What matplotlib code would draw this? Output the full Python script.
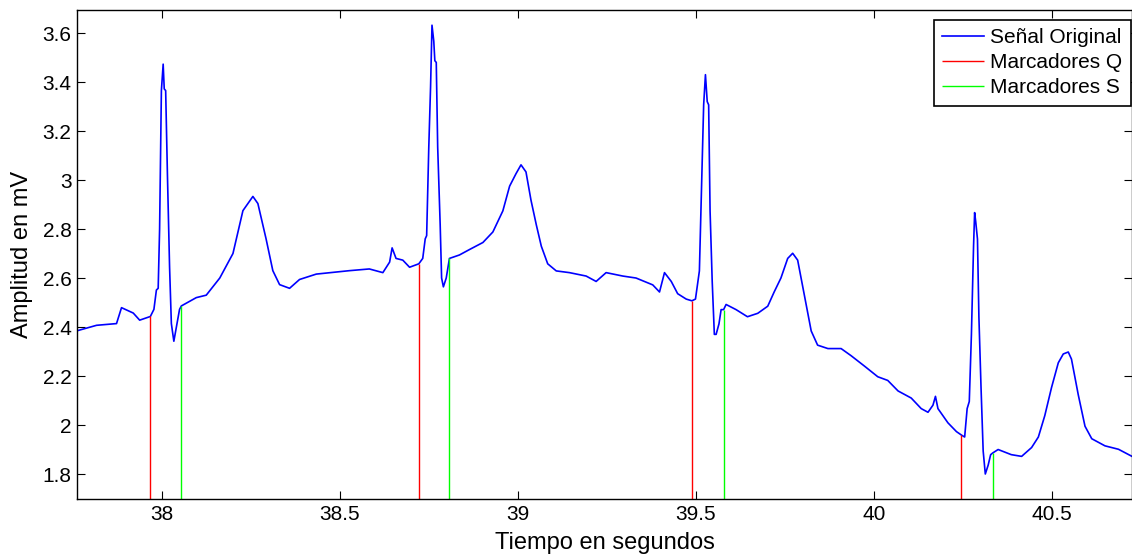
import matplotlib
matplotlib.use("Agg")
import matplotlib.pyplot as plt

# ---- data ----
senal_t = [37.763, 37.817, 37.873, 37.887, 37.920, 37.938, 37.968, 37.978, 37.985, 37.990,
           37.994, 37.999, 38.004, 38.007, 38.011, 38.016, 38.022, 38.027, 38.034, 38.041,
           38.050, 38.055, 38.097, 38.125, 38.163, 38.200, 38.228, 38.256, 38.270, 38.293,
           38.312, 38.331, 38.359, 38.387, 38.434, 38.480, 38.527, 38.583, 38.621, 38.640,
           38.647, 38.658, 38.677, 38.696, 38.722, 38.733, 38.740, 38.744, 38.750, 38.755,
           38.759, 38.764, 38.767, 38.771, 38.775, 38.782, 38.786, 38.791, 38.799, 38.808,
           38.836, 38.864, 38.902, 38.930, 38.958, 38.977, 38.995, 39.009, 39.023, 39.037,
           39.052, 39.066, 39.084, 39.108, 39.145, 39.192, 39.220, 39.248, 39.295, 39.332,
           39.379, 39.398, 39.412, 39.431, 39.449, 39.473, 39.489, 39.499, 39.506, 39.510,
           39.518, 39.522, 39.527, 39.532, 39.536, 39.540, 39.546, 39.552, 39.557, 39.565,
           39.571, 39.578, 39.585, 39.613, 39.645, 39.674, 39.702, 39.720, 39.739, 39.758,
           39.772, 39.786, 39.805, 39.824, 39.842, 39.871, 39.908, 39.936, 39.974, 40.011,
           40.039, 40.068, 40.105, 40.133, 40.152, 40.166, 40.173, 40.180, 40.208, 40.232,
           40.246, 40.255, 40.262, 40.268, 40.274, 40.280, 40.283, 40.286, 40.291, 40.295,
           40.301, 40.307, 40.313, 40.321, 40.328, 40.334, 40.349, 40.386, 40.415, 40.443,
           40.462, 40.480, 40.499, 40.518, 40.532, 40.546, 40.555, 40.574, 40.593, 40.612,
           40.649, 40.687, 40.725]
senal_v = [2.385, 2.407, 2.414, 2.479, 2.457, 2.428, 2.443, 2.472, 2.551, 2.558,
           2.800, 3.365, 3.473, 3.372, 3.365, 3.020, 2.645, 2.414, 2.342, 2.400,
           2.472, 2.486, 2.520, 2.530, 2.600, 2.700, 2.875, 2.933, 2.904, 2.760,
           2.630, 2.573, 2.558, 2.594, 2.616, 2.623, 2.630, 2.637, 2.622, 2.665,
           2.723, 2.680, 2.673, 2.644, 2.658, 2.680, 2.760, 2.773, 3.134, 3.380,
           3.632, 3.567, 3.487, 3.480, 3.134, 2.817, 2.600, 2.564, 2.600, 2.680,
           2.694, 2.716, 2.745, 2.788, 2.874, 2.975, 3.026, 3.062, 3.033, 2.918,
           2.817, 2.730, 2.658, 2.629, 2.622, 2.608, 2.586, 2.622, 2.608, 2.600,
           2.572, 2.543, 2.622, 2.586, 2.536, 2.514, 2.507, 2.514, 2.586, 2.629,
           3.090, 3.307, 3.430, 3.320, 3.307, 2.874, 2.586, 2.370, 2.370, 2.413,
           2.471, 2.471, 2.492, 2.471, 2.442, 2.456, 2.485, 2.543, 2.600, 2.680,
           2.701, 2.673, 2.528, 2.384, 2.326, 2.312, 2.312, 2.283, 2.240, 2.197,
           2.182, 2.139, 2.110, 2.067, 2.052, 2.081, 2.117, 2.067, 2.009, 1.973,
           1.959, 1.951, 2.067, 2.096, 2.370, 2.730, 2.867, 2.831, 2.759, 2.442,
           2.153, 1.894, 1.800, 1.836, 1.879, 1.886, 1.900, 1.879, 1.872, 1.908,
           1.951, 2.038, 2.153, 2.254, 2.290, 2.298, 2.269, 2.124, 1.995, 1.944,
           1.915, 1.901, 1.872]

q_t = [37.968, 38.722, 39.489, 40.246]
q_v = [2.443, 2.658, 2.507, 1.959]
s_t = [38.055, 38.808, 39.578, 40.334]
s_v = [2.486, 2.680, 2.471, 1.886]

x_ticks = [38, 38.5, 39, 39.5, 40, 40.5]
x_tick_labels = ["38", "38.5", "39", "39.5", "40", "40.5"]
y_ticks = [1.8, 2.0, 2.2, 2.4, 2.6, 2.8, 3.0, 3.2, 3.4, 3.6]
y_tick_labels = ["1.8", "2", "2.2", "2.4", "2.6", "2.8", "3", "3.2", "3.4", "3.6"]

labels = ["Señal Original", "Marcadores Q", "Marcadores S"]

# ---- figure ----
plt.rcParams['font.family'] = ['Liberation Sans', 'DejaVu Sans']

W, H = 1132, 554
fig = plt.figure(figsize=(W / 100, H / 100), dpi=100)
ax = fig.add_axes([77 / W, 1 - 499 / H, 1 - 77 / W, (499 - 10) / H])

ylim = (1.698, 3.694)
ax.set_xlim(37.762, 40.725)
ax.set_ylim(*ylim)

ax.plot(senal_t, senal_v, color='#0000ff', lw=1.2, label=labels[0])
ax.vlines(q_t, ylim[0], q_v, color='#ff0000', lw=1.0, label=labels[1])
ax.vlines(s_t, ylim[0], s_v, color='#00ff00', lw=1.0, label=labels[2])

ax.set_xticks(x_ticks)
ax.set_xticklabels(x_tick_labels)
ax.set_yticks(y_ticks)
ax.set_yticklabels(y_tick_labels)
ax.tick_params(direction='in', length=5.5, width=0.8, top=True, right=True,
               labelsize=15, pad=4, colors='black')

for sp in ax.spines.values():
    sp.set_linewidth(1.0)
    sp.set_color('black')

ax.set_xlabel("Tiempo en segundos", fontsize=17, labelpad=6)
ax.set_ylabel("Amplitud en mV", fontsize=17, labelpad=7)

leg = ax.legend(loc='upper right', bbox_to_anchor=(1130.7 / W, 1 - 19.5 / H),
                bbox_transform=fig.transFigure, borderaxespad=0, fontsize=15,
                fancybox=False, framealpha=1, edgecolor='black', handlelength=2.0,
                handletextpad=0.3, labelspacing=0.3, borderpad=0.4)
leg.get_frame().set_linewidth(1.2)

fig.savefig("out.png", dpi=100)
